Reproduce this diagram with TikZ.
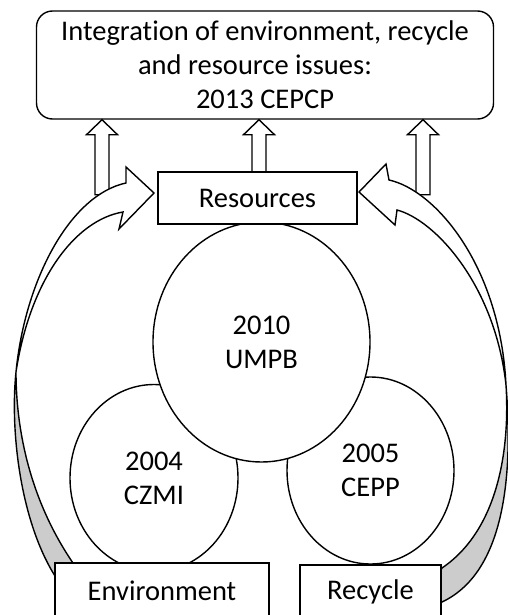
\documentclass[tikz,border=0pt]{standalone}
\usepackage{fontspec}
\setmainfont{Carlito}[Ligatures=CommonOff]
\usetikzlibrary{shapes.geometric,calc}
\definecolor{backgray}{RGB}{204,204,204}
\begin{document}
\begin{tikzpicture}[x=1pt,y=-1pt,line width=1.4pt,line join=miter,
  every node/.style={font=\fontsize{28.5}{34}\selectfont},
  box/.style={draw,fill=white,inner sep=0pt,align=center},
  blob/.style={draw,fill=white,ellipse,inner sep=0pt,align=center},
  face/.style={draw,fill=white},
  back/.style={draw,fill=backgray},
  uparrow/.style={draw,fill=white}]
\useasboundingbox (0,0) rectangle (508,615);
\clip (0,0) rectangle (508,615);

% top box
\node[box,rounded corners=16pt,minimum width=457pt,minimum height=108pt] (top) at (265,65)
  {Integration of environment, recycle\\and resource issues:\hbox to 20pt{}\\2013 CEPCP};

% resources box placeholder for anchors (drawn later on top)
\path (257.5,198) node[inner sep=0pt,minimum width=199pt,minimum height=52pt] (resph) {};

% block arrows up
\coordinate (tl) at ($(top.south)+(-163,0)$);
\coordinate (tm) at ($(top.south)+(-6,0)$);
\coordinate (tr) at ($(top.south)+(158,0)$);
\draw[uparrow] (tl) -- ++(-15.5,15) -- ++(8.5,0) -- ++(0,60) -- ++(14,0) -- ++(0,-60) -- ++(8.5,0) -- cycle;
\draw[uparrow] (tm) -- ++(-15.5,15) -- ++(8.5,0) -- ++(0,40) -- ++(14,0) -- ++(0,-40) -- ++(8.5,0) -- cycle;
\draw[uparrow] (tr) -- ++(-15.5,15) -- ++(8.5,0) -- ++(0,60) -- ++(14,0) -- ++(0,-60) -- ++(8.5,0) -- cycle;

% left curved arrow
\draw[back] (16,372) .. controls (10,430) and (20,520) .. (55,576) -- (75,590) -- (73,563)
  .. controls (30,500) and (16,430) .. (16,372) -- cycle;
\draw[face] (16,372) .. controls (25,280) and (70,195) .. (126,183) -- (126,167) -- (154,193)
  -- (119,229) -- (123,212) .. controls (75,220) and (30,280) .. (16,372) -- cycle;

% right curved arrow
\draw[back] (506,385) .. controls (512,460) and (510,570) .. (442,602) -- (430,590) -- (442,568)
  .. controls (498,530) and (510,450) .. (506,385) -- cycle;
\draw[face] (506,385) .. controls (500,265) and (435,190) .. (389,180) -- (386,164) -- (359,192)
  -- (395,225) -- (397,210) .. controls (435,220) and (495,285) .. (506,385) -- cycle;

% ellipses
\node[blob,minimum width=168pt,minimum height=187pt] (czmi) at (154,478) {2004\\CZMI};
\node[blob,minimum width=167pt,minimum height=187pt] (cepp) at (370.5,470.5) {2005\\CEPP};
\node[blob,minimum width=217pt,minimum height=240pt] (umpb) at (261.5,342) {2010\\UMPB};

% boxes
\node[box,minimum width=199pt,minimum height=52pt] (res) at (257.5,198) {Resources};
\node[box,minimum width=214pt,minimum height=56pt] (env) at (162,591) {Environment};
\node[box,minimum width=141pt,minimum height=54pt] (rec) at (370.5,592) {Recycle};
\end{tikzpicture}
\end{document}
